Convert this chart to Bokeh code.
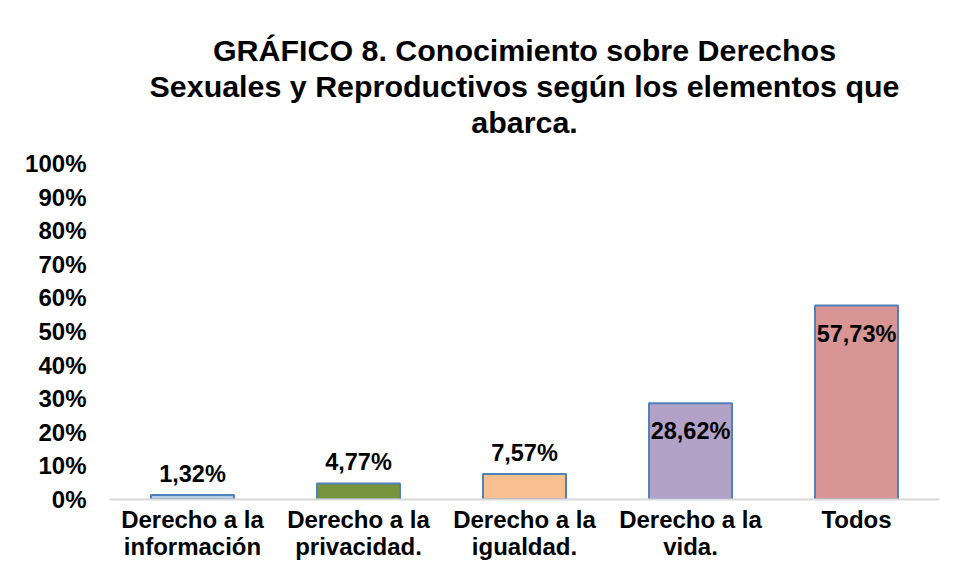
from bokeh.plotting import figure
from bokeh.models import ColumnDataSource, FixedTicker, Title
from bokeh.core.properties import value
from bokeh.embed import file_html
from bokeh.resources import INLINE

title_lines = ["GRÁFICO 8. Conocimiento sobre Derechos",
               "Sexuales y Reproductivos según los elementos que",
               "abarca."]
categories = ["Derecho a la\ninformación", "Derecho a la\nprivacidad.", "Derecho a la\nigualdad.",
              "Derecho a la\nvida.", "Todos"]
values = [1.32, 4.77, 7.57, 28.62, 57.73]
labels = ["1,32%", "4,77%", "7,57%", "28,62%", "57,73%"]
colors = ["#B9CDE5", "#77933C", "#FAC090", "#B3A2C7", "#D99594"]
y_ticks = [0, 10, 20, 30, 40, 50, 60, 70, 80, 90, 100]

FONT = "Liberation Sans"

p = figure(x_range=categories, y_range=(0, 100), width=947, height=562,
           output_backend="svg", toolbar_location=None, title=None,
           min_border_left=109, min_border_right=8, min_border_bottom=60, min_border_top=0)

def spacer(px):
    return Title(text=" ", text_font_size=f"{px}px", standoff=0, offset=0, text_line_height=1.0)

# innermost first
p.add_layout(spacer(21), "above")
for line in reversed(title_lines):
    t = Title(text=line, align="center", text_font=FONT, text_font_size="30.4px",
              text_font_style="bold", text_color="#000000", standoff=0, offset=0,
              text_line_height=1.0)
    p.add_layout(t, "above")
p.add_layout(spacer(25), "above")

src = ColumnDataSource(dict(cat=categories, val=values, lab=labels, col=colors))
p.vbar(x="cat", top="val", width=0.5, source=src, fill_color="col",
       line_color="#4F81BD", line_width=2)

out_idx = [i for i, v in enumerate(values) if v < 20]
in_idx = [i for i, v in enumerate(values) if v >= 20]
src_out = ColumnDataSource(dict(cat=[categories[i] for i in out_idx], val=[values[i] for i in out_idx],
                                lab=[labels[i] for i in out_idx]))
src_in = ColumnDataSource(dict(cat=[categories[i] for i in in_idx], val=[values[i] for i in in_idx],
                               lab=[labels[i] for i in in_idx]))
p.text(x="cat", y="val", text="lab", source=src_out, text_align="center", text_baseline="bottom",
       y_offset=-8, text_font=value(FONT), text_font_style="bold", text_font_size="23.5px", text_color="#000000")
p.text(x="cat", y="val", text="lab", source=src_in, text_align="center", text_baseline="top",
       y_offset=15, text_font=value(FONT), text_font_style="bold", text_font_size="23.5px", text_color="#000000")

p.xgrid.grid_line_color = None
p.ygrid.grid_line_color = None
p.outline_line_color = None

p.yaxis.ticker = FixedTicker(ticks=y_ticks)
p.yaxis.major_label_overrides = {t: f"{t}%" for t in y_ticks}
p.yaxis.axis_line_color = None
p.yaxis.major_tick_line_color = None
p.yaxis.minor_tick_line_color = None
p.yaxis.major_tick_out = 0
p.yaxis.minor_tick_out = 0
p.yaxis.axis_label_standoff = 0
p.yaxis.major_label_standoff = 23
p.yaxis.major_label_text_font = FONT
p.yaxis.major_label_text_font_style = "bold"
p.yaxis.major_label_text_font_size = "24px"
p.yaxis.major_label_text_color = "#000000"

p.xaxis.axis_line_color = "#D9D9D9"
p.xaxis.axis_line_width = 2
p.xaxis.major_tick_line_color = None
p.xaxis.minor_tick_line_color = None
p.xaxis.major_tick_out = 0
p.xaxis.minor_tick_out = 0
p.xaxis.axis_label_standoff = 0
p.xaxis.major_label_standoff = 6
p.xaxis.major_label_text_font = FONT
p.xaxis.major_label_text_font_style = "bold"
p.xaxis.major_label_text_font_size = "24px"
p.xaxis.major_label_text_line_height = 1.0
p.xaxis.major_label_text_color = "#000000"
p.xaxis.major_label_orientation = "horizontal"

open("out.html", "w").write(file_html(p, INLINE))
